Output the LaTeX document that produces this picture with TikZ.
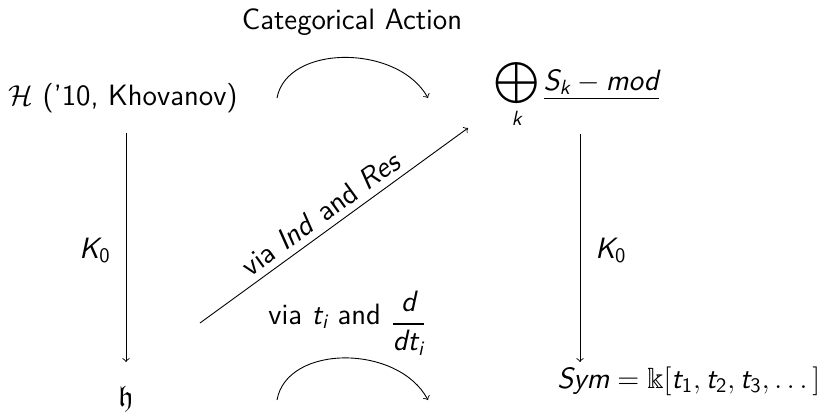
\documentclass[tikz,border=0pt]{standalone}
\usepackage{amsmath,amssymb}
\newcommand\si[1]{\text{\sffamily\slshape #1}}
\newcommand\sd[1]{\text{\sffamily\upshape #1}}
\tikzset{
  lbl/.style={font=\sffamily\fontsize{14.7}{17}\selectfont, inner sep=0pt},
  arr/.style={->, line width=0.45pt}
}
\begin{document}
\begin{tikzpicture}[x=0.5pt,y=-0.5pt]
\useasboundingbox (0,0) rectangle (830,414);
% nodes
\node[lbl, anchor=base] (cat) at (352,29) {Categorical Action};
\node[lbl, anchor=base west] (H) at (8,105) {$\mathcal{H}$ ('10, Khovanov)};
\node[lbl, anchor=base west] (S) at (494,90) {$\displaystyle\bigoplus_{\si{k}} \underline{\si{S}_{\si{k}} - \si{mod}}$};
\node[lbl, anchor=base] (h) at (126,406) {$\mathfrak{h}$};
\node[lbl, anchor=base west] (Sym) at (557,388) {$\si{Sym} = \Bbbk[\si{t}_{\sd{1}}, \si{t}_{\sd{2}}, \si{t}_{\sd{3}}, \dots]$};
\node[lbl, anchor=base east] (k1) at (111,258) {$\si{K}_{\sd{0}}$};
\node[lbl, anchor=base west] (k2) at (595,258) {$\si{K}_{\sd{0}}$};
\node[lbl, anchor=base west] (via) at (268,324) {via $\si{t}_{\si{i}}$ and \raisebox{-3.6pt}{$\dfrac{\si{d}}{\si{d}\si{t}_{\si{i}}}$}};
% coordinates
\coordinate (l1) at (126,133);
\coordinate (l2) at (126,362);
\coordinate (r1) at (580,134);
\coordinate (r2) at (580,362);
\coordinate (d1) at (200,323);
\coordinate (d2) at (468,128);
\coordinate (ta) at (277,98);
\coordinate (tb) at (428,98);
\coordinate (ba) at (277,400);
\coordinate (bb) at (428,400);
% connectors
\draw[arr] (l1) -- (l2);
\draw[arr] (r1) -- (r2);
\draw[arr] (d1) -- node[lbl, pos=0.49, sloped, above, inner sep=3.3pt] (ir) {via \textsl{Ind} and \textsl{Res}} (d2);
\draw[arr] (ta) .. controls (287,44) and (398,44) .. (tb);
\draw[arr] (ba) .. controls (287,344) and (398,344) .. (bb);
\end{tikzpicture}
\end{document}
